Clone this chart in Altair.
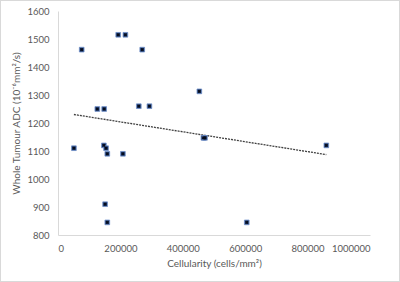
import altair as alt
import pandas as pd

cellularity = [51000, 76000, 126000, 148000, 147000, 154000, 158000, 151000, 158000,
               193000, 216000, 208000, 270000, 259000, 293000, 453000, 466000, 471000,
               605000, 860000]
adc = [1110, 1462, 1250, 1250, 1120, 1110, 1090, 910, 845,
       1515, 1515, 1090, 1462, 1260, 1260, 1313, 1147, 1147,
       845, 1120]

df = pd.DataFrame({"cell": cellularity, "adc": adc})

font = "Lato"
grey = "#595959"

x = alt.X("cell:Q", scale=alt.Scale(domain=[0, 1000000], nice=False),
          axis=alt.Axis(values=[0, 200000, 400000, 600000, 800000, 1000000], format="d",
                        title="Cellularity (cells/mm²)", grid=False, ticks=False,
                        domainColor="#D9D9D9", labelPadding=8, titlePadding=6))
y = alt.Y("adc:Q", scale=alt.Scale(domain=[800, 1600], nice=False, zero=False),
          axis=alt.Axis(values=list(range(800, 1601, 100)), format="d",
                        title="Whole Tumour ADC (10⁻⁶mm²/s)", grid=False, ticks=False,
                        domainColor="#D9D9D9", labelPadding=9, titlePadding=5))

frame = alt.Chart(df).mark_rect(fill="white", fillOpacity=0, stroke="#D9D9D9", strokeWidth=1).encode(
    x=alt.value(-57.5), x2=alt.value(341.5), y=alt.value(-10.5), y2=alt.value(270.5))

trend = alt.Chart(df).transform_regression("cell", "adc").mark_line(
    color="#404040", strokeDash=[2, 1], strokeWidth=1.3).encode(x=x, y=y)

pts = alt.Chart(df).mark_point(shape="square", filled=True, size=22, color="#1F3864",
                               stroke="#7090CC", strokeWidth=0.8, opacity=1).encode(x=x, y=y)
crosses = alt.Chart(df).mark_point(shape="cross", filled=True, size=10, color="#050A1A",
                                   angle=45, opacity=1).encode(x=x, y=y)

chart = alt.layer(frame, trend, pts, crosses).properties(
    width=312, height=224,
    autosize=alt.AutoSizeParams(type="none"),
    padding={"left": 58, "top": 11, "right": 30, "bottom": 47},
    background="white",
).configure_view(stroke=None).configure_axis(
    labelFont=font, titleFont=font, labelColor=grey, titleColor=grey,
    labelFontSize=9.5, titleFontSize=10, titleFontWeight="normal")

chart.save("out.html", embed_options={"renderer": "svg", "actions": False})
